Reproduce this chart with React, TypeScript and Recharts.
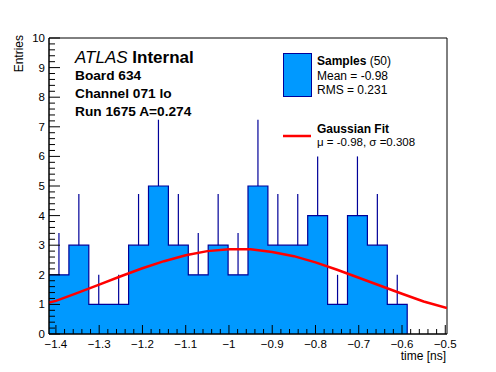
import React from 'react';
import {
  ComposedChart,
  Area,
  Line,
  Scatter,
  ErrorBar,
  XAxis,
  YAxis,
  ReferenceArea,
} from 'recharts';

// histogram: 20 bins over [-1.416, -0.496], last two are empty
const xRange = [-1.416, -0.496];
const binLowEdges = [
  -1.416, -1.37, -1.324, -1.278, -1.232, -1.186, -1.14, -1.094, -1.048,
  -1.002, -0.956, -0.91, -0.864, -0.818, -0.772, -0.726, -0.68, -0.634,
];
const histEnd = -0.588;
const binCounts = [2, 3, 1, 1, 3, 5, 3, 2, 3, 2, 5, 3, 3, 4, 1, 4, 3, 1];
const binErrUp = [1.41, 1.73, 1, 1, 1.73, 2.24, 1.73, 1.41, 1.73, 1.41, 2.24, 1.73, 1.73, 2, 1, 2, 1.73, 1];

// gaussian fit curve
const fitX = [
  -1.416, -1.4, -1.35, -1.3, -1.25, -1.2, -1.15, -1.1, -1.05, -1.0, -0.95,
  -0.9, -0.85, -0.8, -0.75, -0.7, -0.65, -0.6, -0.55, -0.496,
];
const fitY = [
  1.06, 1.12, 1.39, 1.67, 1.95, 2.22, 2.46, 2.66, 2.8, 2.86, 2.86,
  2.77, 2.63, 2.42, 2.17, 1.9, 1.63, 1.36, 1.1, 0.88,
];

const xMajorTicks = [-1.4, -1.3, -1.2, -1.1, -1.0, -0.9, -0.8, -0.7, -0.6, -0.5];
const yMajorTicks = [0, 1, 2, 3, 4, 5, 6, 7, 8, 9, 10];

const FONT = '"Liberation Sans", Arial, Helvetica, sans-serif';
const FILL = '#0099ff';
const NAVY = '#000099';

const histData = binLowEdges
  .map((x, i) => ({ x, y: binCounts[i] }))
  .concat([{ x: histEnd, y: 0 }]);
const errData = binLowEdges.map((x, i) => ({
  x: x + (((i + 1 < binLowEdges.length ? binLowEdges[i + 1] : histEnd) - x) / 2),
  y: binCounts[i],
  err: [0, binErrUp[i]],
}));
const fitData = fitX.map((x, i) => ({ x, y: fitY[i] }));

// minor ticks every 0.02 / 0.2
const xTicks: number[] = [];
for (let i = 0; i <= 45; i++) xTicks.push(Math.round((-1.4 + i * 0.02) * 1000) / 1000);
const yTicks: number[] = [];
for (let i = 0; i <= 50; i++) yTicks.push(Math.round(i * 0.2 * 1000) / 1000);

const isMajorX = (v: number) => xMajorTicks.some((t) => Math.abs(t - v) < 1e-6);
const isMajorY = (v: number) => yMajorTicks.some((t) => Math.abs(t - v) < 1e-6);
const fmt = (v: number) => {
  const s = String(Number(v.toFixed(1)));
  return s.replace('-', '\u2212');
};

const XTick = (props: any) => {
  const { x, y, payload } = props;
  const major = isMajorX(payload.value);
  return (
    <g>
      <line x1={x} x2={x} y1={y} y2={y - (major ? 9 : 5)} stroke="#000" />
      {major && (
        <text x={x} y={y + 13.5} textAnchor="middle" fontSize={11.5} fontFamily={FONT} fill="#000">
          {fmt(payload.value)}
        </text>
      )}
    </g>
  );
};

const YTick = (props: any) => {
  const { x, y, payload } = props;
  const major = isMajorY(payload.value);
  return (
    <g>
      <line x1={x} x2={x + (major ? 11 : 6)} y1={y} y2={y} stroke="#000" />
      {major && (
        <text x={x - 4} y={y + 4} textAnchor="end" fontSize={11.5} fontFamily={FONT} fill="#000">
          {payload.value}
        </text>
      )}
    </g>
  );
};

export default function App() {
  return (
    <div style={{ position: 'absolute', left: 0, top: 0, background: '#fff' }}>
      <ComposedChart width={496} height={372} margin={{ top: 38, right: 49, bottom: 0, left: 0 }}>
        <Area
          data={histData}
          dataKey="y"
          type="stepAfter"
          fill={FILL}
          fillOpacity={1}
          stroke={NAVY}
          strokeWidth={1.2}
          isAnimationActive={false}
        />
        <Scatter data={errData} dataKey="y" shape={() => <g />} isAnimationActive={false}>
          <ErrorBar dataKey="err" direction="y" width={0} stroke={NAVY} strokeWidth={1.2} isAnimationActive={false} />
        </Scatter>
        <Line
          data={fitData}
          dataKey="y"
          type="linear"
          stroke="#ff0000"
          strokeWidth={2.5}
          dot={false}
          isAnimationActive={false}
        />
        <ReferenceArea x1={xRange[0]} x2={xRange[1]} y1={0} y2={10} fill="none" stroke="#000" strokeWidth={1} />
        <XAxis
          type="number"
          dataKey="x"
          domain={xRange}
          allowDataOverflow
          ticks={xTicks}
          interval={0}
          tickSize={0}
          tickMargin={0}
          tick={XTick}
          axisLine={{ stroke: '#000' }}
          height={38}
        />
        <YAxis
          type="number"
          domain={[0, 10]}
          allowDataOverflow
          ticks={yTicks}
          interval={0}
          tickSize={0}
          tickMargin={0}
          tick={YTick}
          axisLine={{ stroke: '#000' }}
          width={49}
        />

        {/* axis titles */}
        <text transform="translate(23,35) rotate(-90)" textAnchor="end" fontSize={12} fontFamily={FONT} fill="#000">
          Entries
        </text>
        <text x={446} y={359.5} textAnchor="end" fontSize={12} fontFamily={FONT} fill="#000">
          time [ns]
        </text>

        {/* ATLAS label block */}
        <text x={75} y={62.5} fontSize={17} fontFamily={FONT} fill="#000">
          <tspan fontStyle="italic">ATLAS</tspan>
          <tspan fontWeight="bold"> Internal</tspan>
        </text>
        <text x={75} y={79.5} fontSize={13.7} fontWeight="bold" fontFamily={FONT} fill="#000">Board 634</text>
        <text x={75} y={97.5} fontSize={13.7} fontWeight="bold" fontFamily={FONT} fill="#000">Channel 071 lo</text>
        <text x={75} y={116} fontSize={13.7} fontWeight="bold" fontFamily={FONT} fill="#000">Run 1675 A=0.274</text>

        {/* legend */}
        <rect x={283.5} y={53.5} width={28} height={43} fill={FILL} stroke={NAVY} strokeWidth={1} />
        <text x={317} y={65} fontSize={12} fontFamily={FONT} fill="#000">
          <tspan fontWeight="bold">Samples</tspan>
          <tspan> (50)</tspan>
        </text>
        <text x={317} y={79.5} fontSize={12} fontFamily={FONT} fill="#000">Mean = -0.98</text>
        <text x={317} y={93.5} fontSize={12} fontFamily={FONT} fill="#000">RMS = 0.231</text>
        <line x1={283} x2={311} y1={136} y2={136} stroke="#ff0000" strokeWidth={2.5} />
        <text x={317} y={132.5} fontSize={12} fontWeight="bold" fontFamily={FONT} fill="#000">Gaussian Fit</text>
        <text x={317} y={146} fontSize={11.5} fontFamily={FONT} fill="#000">μ = -0.98, σ =0.308</text>
      </ComposedChart>
    </div>
  );
}
